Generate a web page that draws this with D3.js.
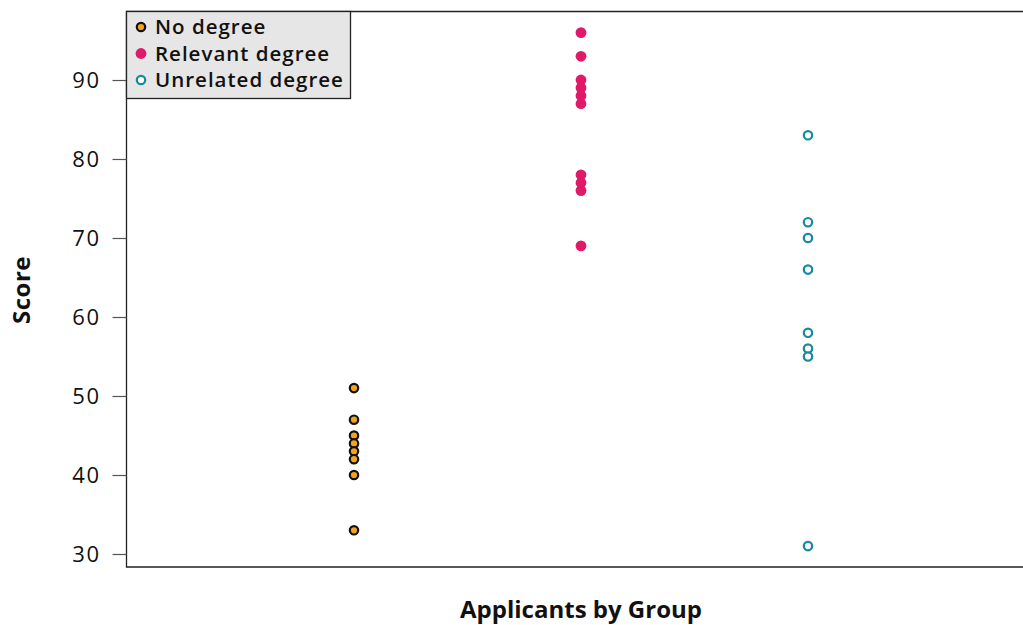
<!DOCTYPE html>
<html><head><meta charset="utf-8">
<script src="https://cdn.jsdelivr.net/npm/d3@7"></script>
<style>body{margin:0;background:#fff}svg{display:block;font-family:"Open Sans",sans-serif}</style>
</head><body><svg id="c" width="1023" height="625"></svg>
<script>
const groups = ["No degree", "Relevant degree", "Unrelated degree"];
const groupX = [1, 2, 3];
const noDegree = [51, 47, 45, 44, 43, 42, 40, 33];
const relevantDegree = [96, 93, 90, 89, 88, 87, 78, 77, 76, 69];
const unrelatedDegree = [83, 72, 70, 66, 58, 56, 55, 31];
const yTicks = [30, 40, 50, 60, 70, 80, 90];
const series = [noDegree, relevantDegree, unrelatedDegree];
const styles = [
  {fill:"#F5A31A", stroke:"#111", sw:2.2, r:4.2},
  {fill:"#E01A68", stroke:"none", sw:0, r:5.4},
  {fill:"#fff", stroke:"#138A9E", sw:2.2, r:4.2}
];

const svg = d3.select("#c");
const x = d3.scaleLinear().domain([0, 4]).range([127, 1035]);
const y = d3.scaleLinear().domain([30, 90]).range([554, 80]);
const plotTop = 11, plotBottom = 567, plotLeft = 126.5;

// plot frame
svg.append("path").attr("d", `M1040,${plotTop+0.5}H${plotLeft}V${plotBottom}H1040`)
  .attr("fill","none").attr("stroke","#222").attr("stroke-width",1.3);

// y axis
const ya = svg.append("g").attr("transform",`translate(${plotLeft},0)`)
  .call(d3.axisLeft(y).tickValues(yTicks).tickSize(14).tickPadding(12));
ya.select(".domain").remove();
ya.selectAll(".tick line").attr("stroke","#555").attr("stroke-width",1.2);
ya.selectAll(".tick text").attr("font-size",22).attr("fill","#111")
  .attr("font-family","'Open Sans',sans-serif").attr("letter-spacing",1.5);

// points
series.forEach((vals, i) => {
  const s = styles[i];
  svg.append("g").selectAll("circle").data(vals).join("circle")
    .attr("cx", x(groupX[i])).attr("cy", d => y(d)).attr("r", s.r)
    .attr("fill", s.fill).attr("stroke", s.stroke).attr("stroke-width", s.sw);
});

// axis titles
svg.append("text").attr("x", 581).attr("y", 618).attr("text-anchor","middle")
  .attr("font-size",24).attr("font-weight",700).attr("fill","#111").text("Applicants by Group");
svg.append("text").attr("transform","translate(30,290) rotate(-90)").attr("text-anchor","middle")
  .attr("font-size",24).attr("font-weight",700).attr("letter-spacing",0.5).attr("fill","#111").text("Score");

// legend
const lg = svg.append("g");
lg.append("rect").attr("x",plotLeft).attr("y",plotTop+0.5).attr("width",224).attr("height",87)
  .attr("fill","#E6E6E6").attr("stroke","#222").attr("stroke-width",1.3);
groups.forEach((g, i) => {
  const s = styles[i];
  const cy = 27 + i*26.5;
  lg.append("circle").attr("cx",141).attr("cy",cy).attr("r", s.r)
    .attr("fill", s.fill).attr("stroke", s.stroke).attr("stroke-width", s.sw);
  lg.append("text").attr("x",155).attr("y",cy).attr("dy","0.36em")
    .attr("font-size",20.5).attr("font-weight",600).attr("letter-spacing",1).attr("fill","#111").text(g);
});
</script></body></html>
